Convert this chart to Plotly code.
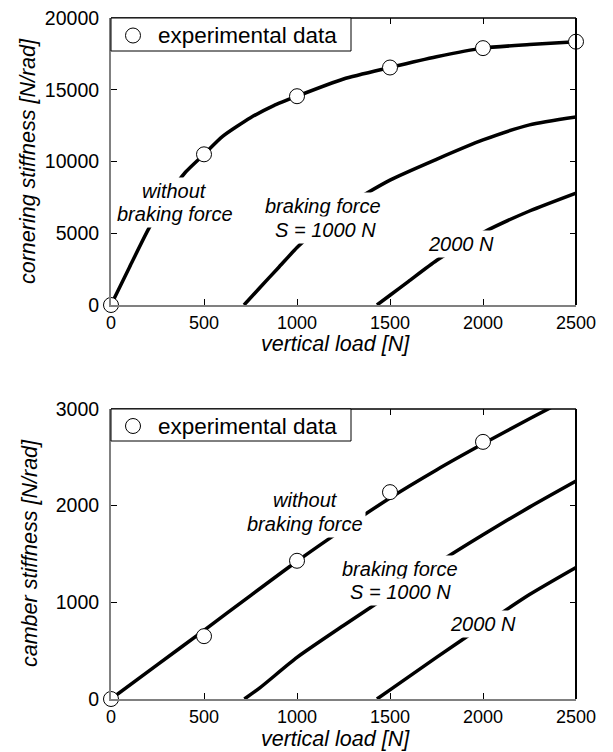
import plotly.graph_objects as go

# ---------------- data ----------------
# Top panel: cornering stiffness [N/rad] vs vertical load [N]
load_exp_top = [0, 500, 1000, 1500, 2000, 2500]
corner_exp = [0, 10500, 14550, 16550, 17900, 18350]

load_corner_s0 = [0, 100, 200, 300, 400, 500, 600, 750, 875, 1000, 1250, 1500, 1750, 2000, 2250, 2500]
corner_s0 = [0, 2650, 5250, 7450, 9250, 10500, 11750, 13050, 13900, 14550, 15750, 16550, 17300, 17900, 18150, 18350]

load_corner_s1000 = [715, 800, 900, 1000, 1100, 1250, 1500, 1750, 2000, 2250, 2500]
corner_s1000 = [0, 1200, 2600, 4000, 5200, 6800, 8700, 10150, 11500, 12550, 13100]

load_corner_s2000 = [1430, 1500, 1600, 1750, 1900, 2000, 2250, 2500]
corner_s2000 = [0, 680, 1650, 3100, 4300, 5050, 6550, 7800]

# Bottom panel: camber stiffness [N/rad] vs vertical load [N]
load_exp_bot = [0, 500, 1000, 1500, 2000]
camber_exp = [0, 650, 1430, 2140, 2660]

load_camber_s0 = [0, 250, 500, 750, 1000, 1250, 1500, 1750, 2000, 2250, 2500]
camber_s0 = [0, 355, 710, 1070, 1425, 1760, 2080, 2370, 2640, 2900, 3150]

load_camber_s1000 = [717, 800, 1000, 1250, 1500, 1750, 2000, 2250, 2500]
camber_s1000 = [0, 115, 430, 760, 1080, 1400, 1700, 1985, 2255]

load_camber_s2000 = [1430, 1500, 1750, 2000, 2250, 2500]
camber_s2000 = [0, 95, 430, 760, 1080, 1360]

x_ticks = [0, 500, 1000, 1500, 2000, 2500]
x_tick_labels = ["0", "500", "1000", "1500", "2000", "2500"]
y_ticks_top = [0, 5000, 10000, 15000, 20000]
y_tick_labels_top = ["0", "5000", "10000", "15000", "20000"]
y_ticks_bot = [0, 1000, 2000, 3000]
y_tick_labels_bot = ["0", "1000", "2000", "3000"]

legend_label = "experimental data"

# ---------------- figure ----------------
# the page body adds an 8 px margin, so the figure is sized to fit the window
W, H = 605, 744
FONT = "Liberation Sans, Arial, sans-serif"

def px_x(p):
    return p / W

def px_y(p):
    return 1 - p / H

PLOT_W = 465
TOP_H, BOT_H = 287, 290
x0, x1 = px_x(103), px_x(103 + PLOT_W)
top_dom = [px_y(297), px_y(297 - TOP_H)]
bot_dom = [px_y(691), px_y(691 - BOT_H)]

fig = go.Figure()

line_style = dict(color="black", width=3.5, shape="spline", smoothing=0.6)
marker_style = dict(symbol="circle", size=15, color="white", line=dict(color="black", width=1))

for xs, ys in [(load_corner_s0, corner_s0), (load_corner_s1000, corner_s1000), (load_corner_s2000, corner_s2000)]:
    fig.add_trace(go.Scatter(x=xs, y=ys, mode="lines", line=line_style, showlegend=False,
                             xaxis="x", yaxis="y", hoverinfo="skip"))
fig.add_trace(go.Scatter(x=load_exp_top, y=corner_exp, mode="markers", marker=marker_style,
                         name=legend_label, showlegend=False, cliponaxis=False,
                         xaxis="x", yaxis="y"))

for xs, ys in [(load_camber_s0, camber_s0), (load_camber_s1000, camber_s1000), (load_camber_s2000, camber_s2000)]:
    fig.add_trace(go.Scatter(x=xs, y=ys, mode="lines", line=line_style, showlegend=False,
                             xaxis="x2", yaxis="y2", hoverinfo="skip"))
fig.add_trace(go.Scatter(x=load_exp_bot, y=camber_exp, mode="markers", marker=marker_style,
                         name=legend_label, showlegend=False, cliponaxis=False,
                         xaxis="x2", yaxis="y2"))

axis_common = dict(
    showgrid=False, zeroline=False, showline=True, linecolor="#808080", linewidth=2,
    mirror=False, ticks="inside", ticklen=6, tickcolor="black", tickwidth=1,
    tickfont=dict(family=FONT, size=18, color="black"),
)
YFONT = dict(family=FONT, size=19.5, color="black")

fig.update_layout(
    width=W, height=H,
    margin=dict(l=0, r=0, t=0, b=0, autoexpand=False),
    plot_bgcolor="white", paper_bgcolor="white",
    font=dict(family=FONT, color="black"),
    showlegend=False,
    xaxis=dict(axis_common, domain=[x0, x1], anchor="y", range=[0, 2500],
               tickvals=x_ticks, ticktext=x_tick_labels, ticklabelstandoff=0),
    yaxis=dict(axis_common, domain=top_dom, anchor="x", range=[0, 20000],
               tickvals=y_ticks_top, ticktext=y_tick_labels_top, tickfont=YFONT,
               ticklabelstandoff=6, ticklabeloverflow="allow"),
    xaxis2=dict(axis_common, domain=[x0, x1], anchor="y2", range=[0, 2500],
                tickvals=x_ticks, ticktext=x_tick_labels, ticklabelstandoff=0),
    yaxis2=dict(axis_common, domain=bot_dom, anchor="x2", range=[0, 3000],
                tickvals=y_ticks_bot, ticktext=y_tick_labels_bot, tickfont=YFONT,
                ticklabelstandoff=6, ticklabeloverflow="allow"),
)

# top/right frame lines
for xr, yr in [("x", "y"), ("x2", "y2")]:
    fig.add_shape(type="line", xref=f"{xr} domain", yref=f"{yr} domain", x0=0, x1=1, y0=1, y1=1,
                  line=dict(color="black", width=1.5))
    fig.add_shape(type="line", xref=f"{xr} domain", yref=f"{yr} domain", x0=1, x1=1, y0=0, y1=1,
                  line=dict(color="black", width=2))

# mirrored tick marks via overlaying axes
mirror_common = dict(ticks="inside", ticklen=6, tickcolor="black", showticklabels=False,
                     showgrid=False, zeroline=False, showline=False)
fig.update_layout(
    xaxis3=dict(mirror_common, overlaying="x", side="top", range=[0, 2500], tickvals=x_ticks, anchor="y"),
    yaxis3=dict(mirror_common, overlaying="y", side="right", range=[0, 20000], tickvals=y_ticks_top, anchor="x"),
    xaxis4=dict(mirror_common, overlaying="x2", side="top", range=[0, 2500], tickvals=x_ticks, anchor="y2"),
    yaxis4=dict(mirror_common, overlaying="y2", side="right", range=[0, 3000], tickvals=y_ticks_bot, anchor="x2"),
)
fig.add_trace(go.Scatter(x=[None], y=[None], xaxis="x3", yaxis="y3", showlegend=False, hoverinfo="skip"))
fig.add_trace(go.Scatter(x=[None], y=[None], xaxis="x4", yaxis="y4", showlegend=False, hoverinfo="skip"))

ann = []

# legend boxes (one per panel, top-left corner of the axes)
LEGFONT = dict(family=FONT, size=22.5, color="black")
for xr, yr, box_h, ph in [("x", "y", 33, TOP_H), ("x2", "y2", 32, BOT_H)]:
    fig.add_shape(type="rect", xref=f"{xr} domain", yref=f"{yr} domain",
                  x0=0, x1=240 / PLOT_W, y0=1 - box_h / ph, y1=1,
                  fillcolor="white", line=dict(color="black", width=1), layer="above")
    fig.add_shape(type="circle", xref=f"{xr} domain", yref=f"{yr} domain",
                  xsizemode="pixel", ysizemode="pixel",
                  xanchor=22 / PLOT_W, yanchor=1 - (box_h / 2 + 1) / ph,
                  x0=-7.5, x1=7.5, y0=-7.5, y1=7.5,
                  fillcolor="white", line=dict(color="black", width=1), layer="above")
    ann.append(dict(text=legend_label, xref=f"{xr} domain", yref=f"{yr} domain",
                    x=45 / PLOT_W, y=1 - (box_h / 2 + 1) / ph, xanchor="left", yanchor="middle",
                    showarrow=False, font=LEGFONT))

# axis titles
TFONT = dict(family=FONT, size=21.5, color="black")
ann.append(dict(text="<i>vertical load [N]</i>", xref="paper", yref="paper", x=px_x(327),
                y=px_y(336), showarrow=False, font=TFONT, xanchor="center", yanchor="middle"))
ann.append(dict(text="<i>vertical load [N]</i>", xref="paper", yref="paper", x=px_x(327),
                y=px_y(731), showarrow=False, font=TFONT, xanchor="center", yanchor="middle"))
ann.append(dict(text="<i>cornering stiffness [N/rad]</i>", xref="paper", yref="paper", x=px_x(20),
                y=px_y(153), showarrow=False, font=TFONT, textangle=-90,
                xanchor="center", yanchor="middle"))
ann.append(dict(text="<i>camber stiffness [N/rad]</i>", xref="paper", yref="paper", x=px_x(22),
                y=px_y(545), showarrow=False, font=TFONT, textangle=-90,
                xanchor="center", yanchor="middle"))

# curve labels
LFONT = dict(family=FONT, size=20, color="black")
labels_top = [("without", 344, 7931), ("braking force", 344, 6345),
              ("braking force", 1142, 6897), ("S = 1000 N", 1151, 5241), ("2000 N", 1882, 4276)]
labels_bot = [("without", 1043, 2059), ("braking force", 1043, 1810),
              ("braking force", 1554, 1348), ("S = 1000 N", 1554, 1107), ("2000 N", 2000, 779)]
for txt, lx, ly in labels_top:
    ann.append(dict(text=f"<i>{txt}</i>", x=lx, y=ly, xref="x", yref="y", showarrow=False,
                    font=LFONT, bgcolor="white", borderpad=2))
for txt, lx, ly in labels_bot:
    ann.append(dict(text=f"<i>{txt}</i>", x=lx, y=ly, xref="x2", yref="y2", showarrow=False,
                    font=LFONT, bgcolor="white", borderpad=2))
fig.update_layout(annotations=ann)

fig.write_html("out.html")
